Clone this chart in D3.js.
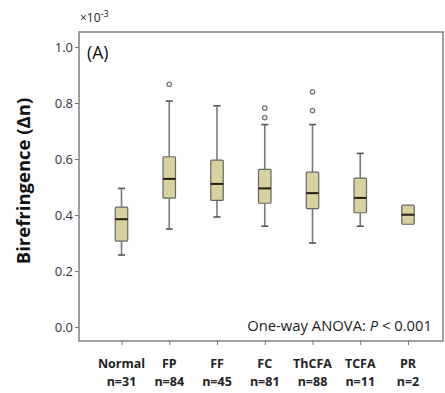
<!DOCTYPE html>
<html>
<head>
<meta charset="utf-8">
<script src="https://cdn.jsdelivr.net/npm/d3@7"></script>
<style>
  body { margin: 0; background: #fff; }
  svg { display: block; font-family: "Open Sans", "Liberation Sans", sans-serif; }
</style>
</head>
<body>
<svg width="445" height="393"></svg>
<script>
// Birefringence boxplot (A)

// Data (values x10^-3)
const categories = ["Normal", "FP", "FF", "FC", "ThCFA", "TCFA", "PR"];
const counts = [31, 84, 45, 81, 88, 11, 2];
const whiskerLow = [0.257, 0.350, 0.393, 0.360, 0.300, 0.360, 0.367];
const q1 = [0.307, 0.460, 0.452, 0.442, 0.423, 0.408, 0.367];
const median = [0.385, 0.529, 0.511, 0.495, 0.478, 0.461, 0.401];
const q3 = [0.428, 0.608, 0.596, 0.563, 0.553, 0.532, 0.435];
const whiskerHigh = [0.495, 0.807, 0.790, 0.723, 0.723, 0.620, 0.435];
const outliers = [[], [0.867], [], [0.782, 0.748], [0.840, 0.773], [], []];
const yTicks = [0.0, 0.2, 0.4, 0.6, 0.8, 1.0];

const svg = d3.select("svg");

// Frame
const frameL = 79, frameR = 443, frameT = 32, frameB = 341;

const x = d3.scalePoint().domain(categories).range([121.5, 408]);
const y = d3.scaleLinear().domain([0, 1]).range([327, 47]);

const BOXW = 12.5;

svg.append("rect")
    .attr("x", frameL).attr("y", frameT)
    .attr("width", frameR - frameL).attr("height", frameB - frameT)
    .attr("fill", "none")
    .attr("stroke", "#808080")
    .attr("stroke-width", 1.5);

// Y axis
const yAxis = svg.append("g")
    .attr("transform", "translate(" + frameL + ",0)")
    .call(d3.axisLeft(y).tickValues(yTicks).tickFormat(d3.format(".1f")).tickSize(4).tickPadding(2));
yAxis.select(".domain").remove();
yAxis.selectAll(".tick line").attr("stroke", "#777");
yAxis.selectAll("text")
    .attr("font-size", 13)
    .attr("fill", "#2e3444")
    .attr("font-family", "Open Sans, sans-serif");

// X axis ticks + labels
const xAxis = svg.append("g")
    .attr("transform", "translate(0," + frameB + ")")
    .call(d3.axisBottom(x).tickSize(4).tickFormat(""));
xAxis.select(".domain").remove();
xAxis.selectAll(".tick line").attr("stroke", "#777");

const labels = svg.append("g");
categories.forEach(function(c, i) {
    labels.append("text")
        .attr("x", x(c)).attr("y", 368)
        .attr("text-anchor", "middle")
        .attr("font-size", 12.5)
        .attr("font-weight", "bold")
        .attr("fill", "#222")
        .text(c);
    labels.append("text")
        .attr("x", x(c)).attr("y", 386)
        .attr("text-anchor", "middle")
        .attr("font-size", 12.5)
        .attr("font-weight", "bold")
        .attr("fill", "#222")
        .text("n=" + counts[i]);
});

// Boxes
const boxes = svg.append("g");
categories.forEach(function(c, i) {
    const cx = x(c);
    const g = boxes.append("g");

    if (whiskerHigh[i] > q3[i]) {
        g.append("line")
            .attr("x1", cx).attr("x2", cx)
            .attr("y1", y(q3[i])).attr("y2", y(whiskerHigh[i]))
            .attr("stroke", "#7a7a7a").attr("stroke-width", 1.6);
        g.append("line")
            .attr("x1", cx - 3.5).attr("x2", cx + 3.5)
            .attr("y1", y(whiskerHigh[i])).attr("y2", y(whiskerHigh[i]))
            .attr("stroke", "#555").attr("stroke-width", 1.6);
    }
    if (whiskerLow[i] < q1[i]) {
        g.append("line")
            .attr("x1", cx).attr("x2", cx)
            .attr("y1", y(q1[i])).attr("y2", y(whiskerLow[i]))
            .attr("stroke", "#7a7a7a").attr("stroke-width", 1.6);
        g.append("line")
            .attr("x1", cx - 3.5).attr("x2", cx + 3.5)
            .attr("y1", y(whiskerLow[i])).attr("y2", y(whiskerLow[i]))
            .attr("stroke", "#555").attr("stroke-width", 1.6);
    }

    g.append("rect")
        .attr("x", cx - BOXW / 2)
        .attr("y", y(q3[i]))
        .attr("width", BOXW)
        .attr("height", y(q1[i]) - y(q3[i]))
        .attr("rx", 1)
        .attr("fill", "#d8d29e")
        .attr("stroke", "#666")
        .attr("stroke-width", 1.2);

    g.append("line")
        .attr("x1", cx - BOXW / 2).attr("x2", cx + BOXW / 2)
        .attr("y1", y(median[i])).attr("y2", y(median[i]))
        .attr("stroke", "#1f1f14").attr("stroke-width", 2);

    outliers[i].forEach(function(v) {
        g.append("circle")
            .attr("cx", cx).attr("cy", y(v))
            .attr("r", 2.2)
            .attr("fill", "#fff")
            .attr("stroke", "#777")
            .attr("stroke-width", 1.3);
    });
});

// Texts
svg.append("text")
    .attr("transform", "translate(30,181) rotate(-90)")
    .attr("text-anchor", "middle")
    .attr("font-size", 18.5)
    .attr("font-weight", "bold")
    .attr("fill", "#111")
    .text("Birefringence (Δn)");

svg.append("text")
    .attr("x", 87).attr("y", 59)
    .attr("font-size", 17.5)
    .attr("fill", "#111")
    .text("(A)");

const mult = svg.append("text")
    .attr("x", 80).attr("y", 22)
    .attr("font-size", 12)
    .attr("fill", "#222");
mult.append("tspan").text("×10");
mult.append("tspan").attr("dy", -5).attr("font-size", 9).text("-3");

const anova = svg.append("text")
    .attr("x", 432).attr("y", 331)
    .attr("text-anchor", "end")
    .attr("font-size", 14.8)
    .attr("fill", "#222");
anova.append("tspan").text("One-way ANOVA: ");
anova.append("tspan").attr("font-style", "italic").text("P");
anova.append("tspan").text(" < 0.001");
</script>
</body>
</html>
